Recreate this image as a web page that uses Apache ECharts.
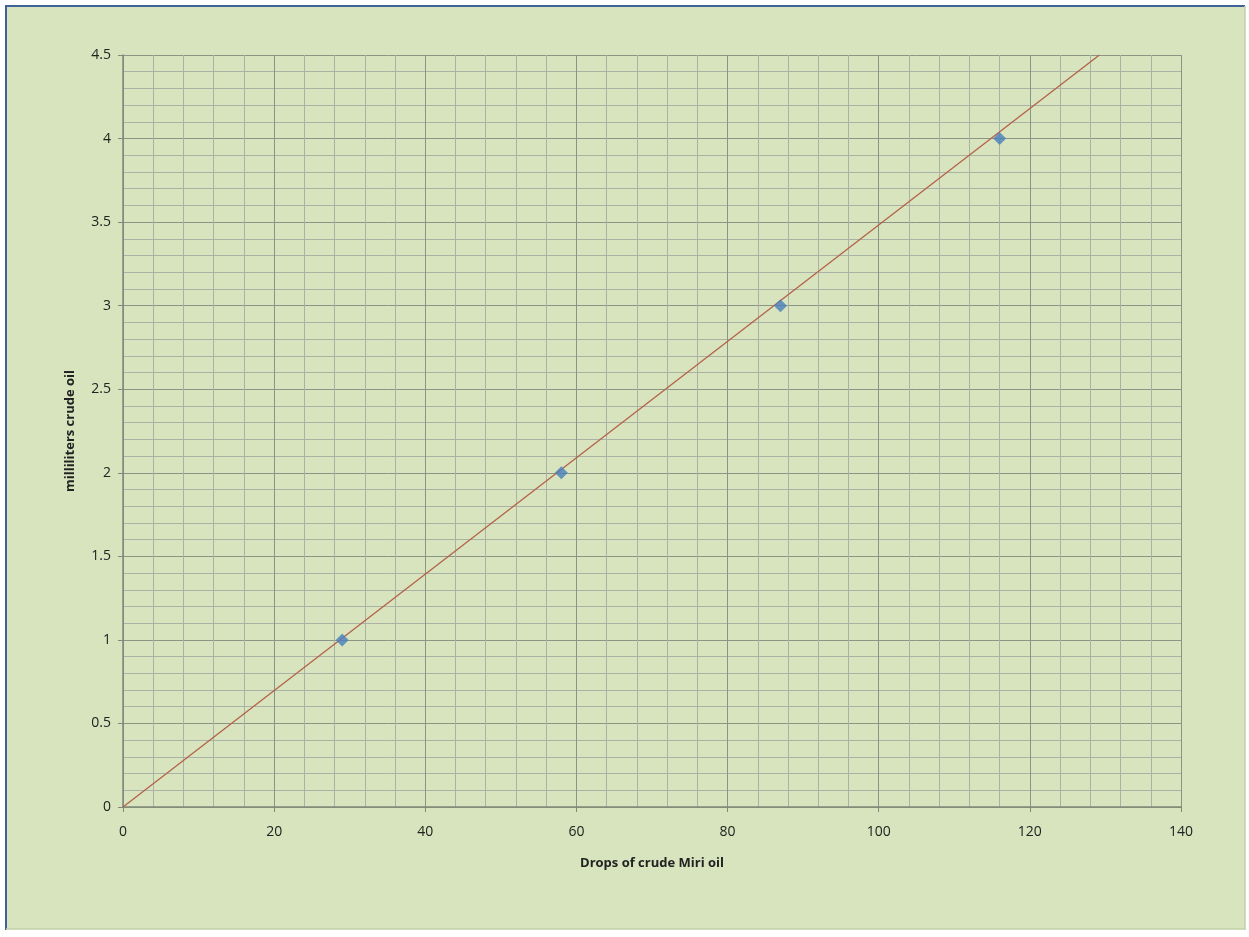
<!DOCTYPE html>
<html>
<head>
<meta charset="utf-8">
<script src="https://cdn.jsdelivr.net/npm/echarts@6/dist/echarts.min.js"></script>
<style>
html,body{margin:0;padding:0;background:#ffffff;}
#c{width:1249px;height:937px;}
</style>
</head>
<body>
<div id="c"></div>
<script>
// Data
const dropsX = [29, 58, 87, 116];
const mlY = [1, 2, 3, 4];
const trendX = [0, 129.2];
const trendY = [0, 4.5];
const xTicks = [0, 20, 40, 60, 80, 100, 120, 140];
const yTicks = [0, 0.5, 1, 1.5, 2, 2.5, 3, 3.5, 4, 4.5];
const xTitle = 'Drops of crude Miri oil';
const yTitle = 'milliliters crude oil';

const chart = echarts.init(document.getElementById('c'), null, {renderer: 'canvas'});
const fontFam = '"Open Sans", "Liberation Sans", sans-serif';
const major = '#8c9585';
const minor = '#a9b2a4';

const option = {
  backgroundColor: '#ffffff',
  animation: false,
  graphic: [
    {type: 'rect', z: -10, shape: {x: 6, y: 6, width: 1239, height: 923}, style: {fill: '#d7e4bd', stroke: null}},
    {type: 'line', z: -5, shape: {x1: 5, y1: 6, x2: 1245, y2: 6}, style: {stroke: '#3f6296', lineWidth: 2}},
    {type: 'line', z: -5, shape: {x1: 6, y1: 5, x2: 6, y2: 930}, style: {stroke: '#3f6296', lineWidth: 2}},
    {type: 'line', z: -5, shape: {x1: 1245, y1: 6, x2: 1245, y2: 930}, style: {stroke: '#c3d1a8', lineWidth: 1.5}},
    {type: 'line', z: -5, shape: {x1: 6, y1: 929, x2: 1245, y2: 929}, style: {stroke: '#c3d1a8', lineWidth: 1.5}}
  ],
  grid: {left: 123, right: 68, top: 55, bottom: 130, containLabel: false},
  xAxis: {
    type: 'value', min: xTicks[0], max: xTicks[xTicks.length - 1], interval: 20,
    name: xTitle, nameLocation: 'middle', nameGap: 50,
    nameTextStyle: {fontFamily: fontFam, fontWeight: 'bold', fontSize: 13, color: '#222'},
    axisLine: {show: true, onZero: false, lineStyle: {color: '#7f8a77', width: 1.5}},
    axisTick: {show: true, length: 5, lineStyle: {color: '#7f8a77'}},
    axisLabel: {fontFamily: fontFam, fontSize: 14, color: '#222', margin: 18},
    splitLine: {show: true, lineStyle: {color: major, width: 1}},
    minorTick: {show: false, splitNumber: 5},
    minorSplitLine: {show: true, lineStyle: {color: minor, width: 1}}
  },
  yAxis: {
    type: 'value', min: yTicks[0], max: yTicks[yTicks.length - 1], interval: 0.5,
    name: yTitle, nameLocation: 'middle', nameGap: 46, nameRotate: 90,
    nameTextStyle: {fontFamily: fontFam, fontWeight: 'bold', fontSize: 13, color: '#222'},
    axisLine: {show: true, onZero: false, lineStyle: {color: '#7f8a77', width: 1.5}},
    axisTick: {show: true, length: 5, lineStyle: {color: '#7f8a77'}},
    axisLabel: {fontFamily: fontFam, fontSize: 14, color: '#222', margin: 12},
    splitLine: {show: true, lineStyle: {color: major, width: 1}},
    minorTick: {show: false, splitNumber: 5},
    minorSplitLine: {show: true, lineStyle: {color: minor, width: 1}}
  },
  series: [
    {
      type: 'line',
      data: trendX.map((x, i) => [x, trendY[i]]),
      showSymbol: false, symbol: 'none',
      lineStyle: {color: '#b5614a', width: 1.3},
      z: 3
    },
    {
      type: 'scatter',
      data: dropsX.map((x, i) => [x, mlY[i]]),
      symbol: 'diamond', symbolSize: 13,
      itemStyle: {color: '#4a7ebb'},
      z: 4
    }
  ]
};
chart.setOption(option);
</script>
</body>
</html>
